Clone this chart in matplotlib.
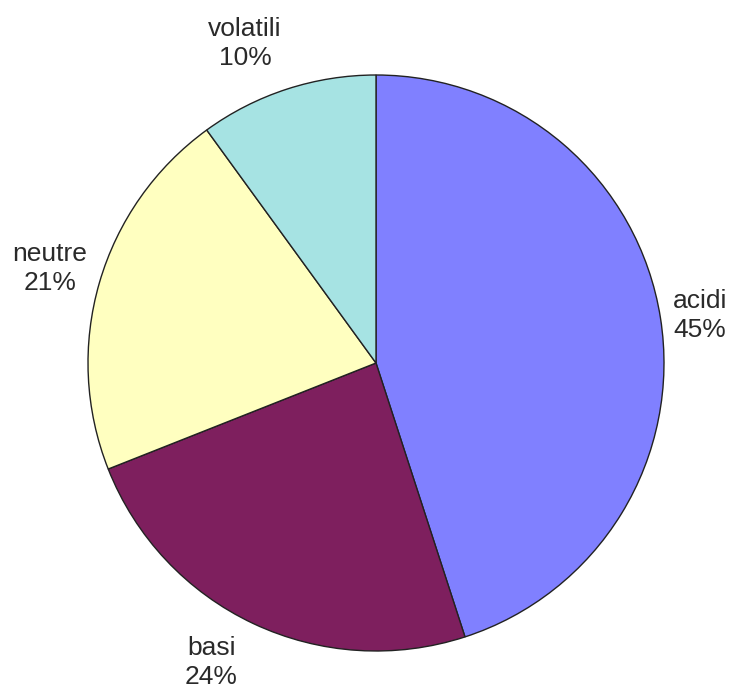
import matplotlib.pyplot as plt

labels = ['acidi', 'basi', 'neutre', 'volatili']
values = [45, 24, 21, 10]
colors = ['#8080ff', '#7e1f5e', '#ffffc0', '#a6e3e3']
# small manual shifts of the label text (pixels, y up)
nudge = [(-12, -6), (-20, 8), (0, 0), (-26, -4)]

plt.rcParams['font.family'] = ['Liberation Sans', 'DejaVu Sans']

fig = plt.figure(figsize=(7.34, 6.91), dpi=100)
ax = fig.add_axes([0, 0, 1, 1])

texts = ['%s\n%d%%' % (l, v) for l, v in zip(labels, values)]
wedges, txts = ax.pie(values, labels=texts, colors=colors, startangle=90,
                      counterclock=False, center=(376, 328), radius=288,
                      labeldistance=1.18, frame=True,
                      wedgeprops=dict(edgecolor='#222222', linewidth=1.0),
                      textprops=dict(fontsize=19, color='#2a2a2a'))
ax.set_xlim(0, 734)
ax.set_ylim(0, 691)
ax.set_aspect('equal')
ax.axis('off')
for t, (dx, dy) in zip(txts, nudge):
    x, y = t.get_position()
    t.set_position((x + dx, y + dy))
    t.set_ha('center')
    t.set_va('center')
    t.set_linespacing(1.25)

fig.savefig('out.png', dpi=100)
